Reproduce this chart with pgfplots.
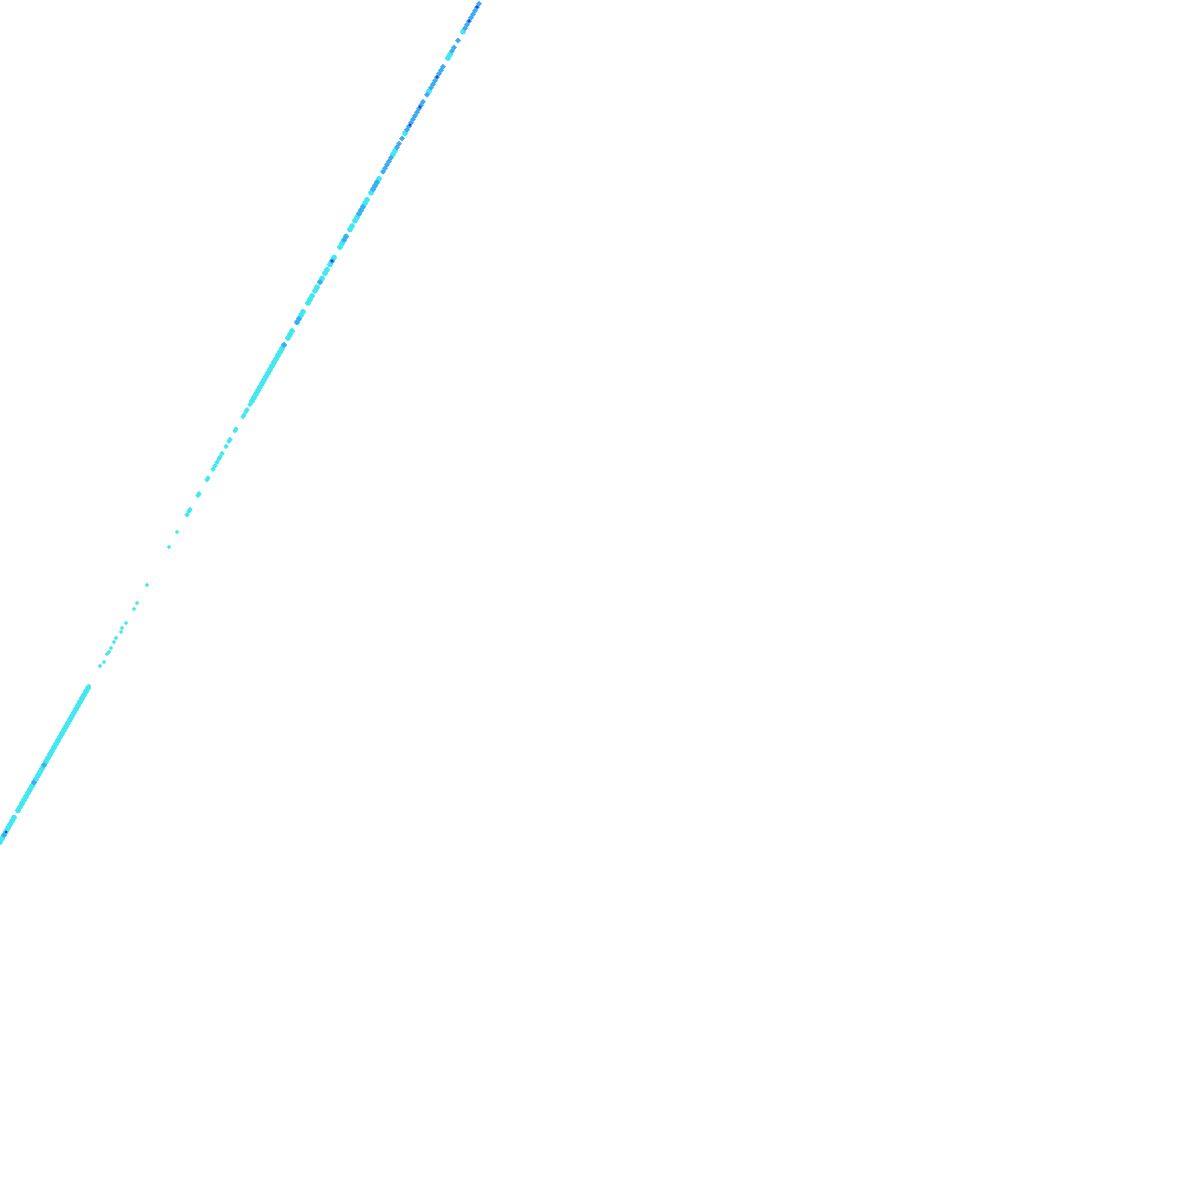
\documentclass[border=0pt]{standalone}
\usepackage{pgfplots}
\pgfplotsset{compat=1.18}
\definecolor{cy}{RGB}{64,232,240}
\definecolor{bl}{RGB}{62,172,244}
\definecolor{dk}{RGB}{40,60,225}
\begin{document}
\begin{tikzpicture}
\begin{axis}[width=12cm,height=12cm,scale only axis,
  xmin=0,xmax=1200,ymin=0,ymax=1200,y dir=reverse,hide axis,clip=false]
\coordinate (SW) at (rel axis cs:0,0);
\coordinate (NE) at (rel axis cs:1,1);
% dense lower run
\addplot[only marks,mark=*,mark size=0.6pt,color=cy,mark options={draw=none}] coordinates {
(0,842)(2,838.5)(4,835)(6,831.5)(8,828)(10,824.5)(12,821)(14,817.5)(18,810.5)
(20,807)(22,803.5)(24,800)(26,796.5)(28,793)(30,789.5)(32,786)(34,782.5)(36,779)
(38,775.5)(40,772)(42,768.5)(44,765)(46,761.5)(48,758)(50,754.5)(52,751)(54,747.5)
(56,744)(58,740.5)(60,737)(62,733.5)(64,730)(66,726.5)(68,723)(70,719.5)(72,716)
(74,712.5)(76,709)(78,705.5)(80,702)(82,698.5)(84,695)(86,691.5)(88,688)
(252,401)(254,397.5)(256,394)(258,390.5)(260,387)(262,383.5)(264,380)(266,376.5)
(268,373)(270,369.5)(272,366)(274,362.5)(276,359)(278,355.5)(280,352)(282,348.5)
(284,345)(288,338)(290,334.5)(292,331)(297,322.25)(299,318.75)(301,315.25)(303,311.75)
(308,303)(310,299.5)(312,296)(315,290.75)(317,287.25)(320,282)(322,278.5)
(325,273.25)(327,269.75)(330,264.5)(332,261)(334,257.5)(340,247)(342,243.5)
(344,240)(346,236.5)(350,229.5)(352,226)(355,220.75)(357,217.25)(359,213.75)
(361,210.25)(363,206.75)(365,203.25)(367,199.75)(371,192.75)(373,189.25)
(375,185.75)(377,182.25)(379,178.75)(393,154.25)(395,150.75)(405,133.25)
(429,91.25)(448,58)(450,54.5)(463,31.75)
};
% sparse cyan dots and small clusters
\addplot[only marks,mark=*,mark size=0.3pt,color=cy,mark options={draw=none}] coordinates {
(89,686)(100,666)(104,662)(107,654)(109,652)(111,648)(114,642)(116,638)(121,632)
(122,628)(126,623)(134,609)(137,603)(147,585)(169,547)(177,532)
};
\addplot[only marks,mark=*,mark size=0.45pt,color=cy,mark options={draw=none}] coordinates {
(187,514.75)(189,511.25)(190,509.5)(198,495.5)(199,493.75)(207,479.75)(208,478)
(213,469.25)(215,465.75)(217,462.25)(219,458.75)(220,457)(222,453.5)(226,446.5)
(229,441.25)(230,439.5)(235,430.75)(236,429)(243,416.75)(244,415)(246,411.5)
(247,409.75)(250,404.5)
};
% blue
\addplot[only marks,mark=*,mark size=0.55pt,color=bl,mark options={draw=none}] coordinates {
(4,835)(34,782.5)(44,765)
(284,345)(297,322.25)(299,318.75)(320,282)(332,261)(344,240)(346,236.5)
(359,213.75)(361,210.25)(363,206.75)(373,189.25)(375,185.75)(377,182.25)
(383,171.75)(385,168.25)(387,164.75)(389,161.25)(391,157.75)(397,147.25)(399,143.75)
(402,138.5)(407,129.75)(409,126.25)(411,122.75)(413,119.25)(415,115.75)(417,112.25)
(419,108.75)(421,105.25)(423,101.75)(427,94.75)(431,87.75)(433,84.25)(435,80.75)
(437,77.25)(439,73.75)(441,70.25)(443,66.75)(452,51)(454,47.5)(458,40.5)
(465,28.25)(467,24.75)(469,21.25)(471,17.75)(473,14.25)(475,10.75)(477,7.25)(479,3.75)
};
% dark blue specks
\addplot[only marks,mark=*,mark size=0.18pt,color=dk,mark options={draw=none}] coordinates {
(6,832)(332,261)(410,125)(420,107)(437,77)(469,21)(477,7)
};
\end{axis}
\pgfresetboundingbox
\path (SW) rectangle (NE);
\end{tikzpicture}
\end{document}
